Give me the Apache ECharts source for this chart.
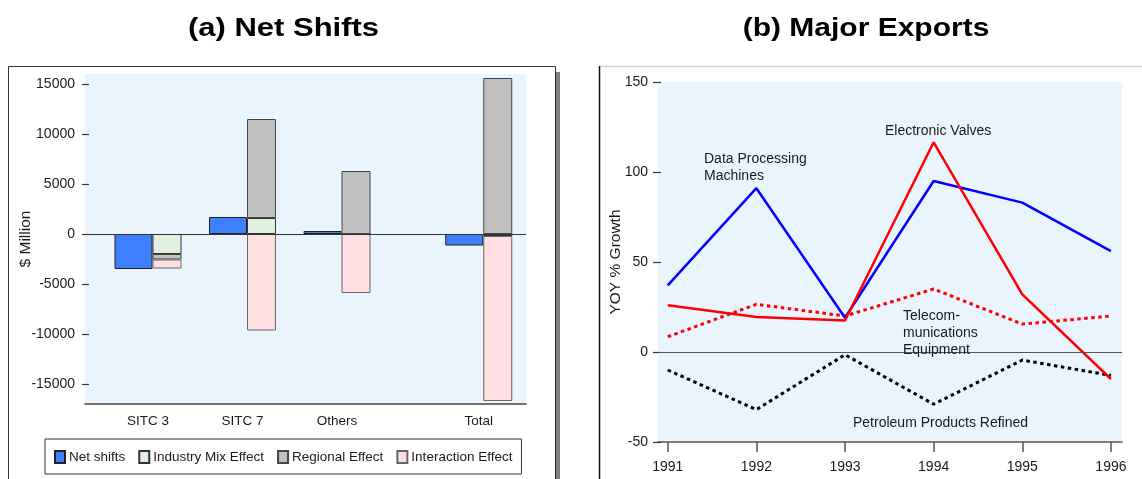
<!DOCTYPE html>
<html>
<head>
<meta charset="utf-8">
<script src="https://cdn.jsdelivr.net/npm/echarts@6/dist/echarts.min.js"></script>
<style>
  html, body { margin: 0; padding: 0; background: #fff; }
  #chart { width: 1142px; height: 479px; }
</style>
</head>
<body>
<div id="chart"></div>
<script>
// (a) Net shifts, $ million
const categories = ['SITC 3', 'SITC 7', 'Others', 'Total']
const netShifts = [-3500, 1700, 300, -1150]
const industryMix = [-2000, 1600, 0, -200]
const regionalEffect = [-550, 9900, 6300, 15600]
const interactionEffect = [-900, -9650, -5900, -16500]
const netTicks = [-15000, -10000, -5000, 0, 5000, 10000, 15000]

// (b) Major exports, YOY % growth
const years = [1991, 1992, 1993, 1994, 1995, 1996]
const dataProcessing = [37, 91, 19, 95, 83, 56]
const electronicValves = [26, 19.5, 17.5, 116.5, 32, -15]
const telecomEquipment = [8.5, 26.5, 20, 35, 15.5, 20]
const petroleumRefined = [-10, -32, -1.5, -29, -4.5, -13]

// category axis layout: Total sits a little apart from the others
const slotCount = 29
const slotOf = [4, 10, 16, 25]

const FONT = '"Liberation Sans", Arial, sans-serif'
const TEXT = '#1a1a1a'

function toSlots(values) {
  const arr = new Array(slotCount).fill(null)
  values.forEach((v, i) => { arr[slotOf[i]] = v })
  return arr
}
const slotLabels = toSlots(categories).map(c => c || '')
const pairs = vals => years.map((y, i) => [y, vals[i]])

const chart = echarts.init(document.getElementById('chart'))

const barBase = { type: 'bar', xAxisIndex: 0, yAxisIndex: 0, barGap: '0%' }
const dotted = [3.5, 3.5]

const option = {
  animation: false,
  textStyle: { fontFamily: FONT, color: TEXT },
  grid: [
    { left: 85, top: 74, width: 441, height: 330, show: true, backgroundColor: '#eaf4fd', borderWidth: 0 },
    { left: 658, top: 82, width: 464, height: 360, show: true, backgroundColor: '#eaf4fd', borderWidth: 0 }
  ],
  legend: {
    data: ['Net shifts', 'Industry Mix Effect', 'Regional Effect', 'Interaction Effect'],
    left: 45, top: 439,
    padding: [11, 9, 10, 9],
    itemWidth: 10, itemHeight: 12, itemGap: 13,
    borderColor: '#333', borderWidth: 1,
    icon: 'rect',
    textStyle: { fontFamily: FONT, fontSize: 13.5, color: TEXT, padding: [0, 0, 0, -1] }
  },
  xAxis: [
    {
      gridIndex: 0, type: 'category', data: slotLabels, boundaryGap: false,
      axisLine: { onZero: false, lineStyle: { color: '#444', width: 1.5 } },
      axisTick: { show: false },
      axisLabel: { interval: 0, margin: 10, fontSize: 13.5, color: TEXT, fontFamily: FONT },
      splitLine: { show: false }
    },
    {
      gridIndex: 1, type: 'value',
      min: v => v.min - 0.11, max: v => v.max + 0.125,
      axisLine: { onZero: false, lineStyle: { color: '#555', width: 1.5 } },
      axisTick: { customValues: years, length: 10, lineStyle: { color: '#555', width: 1.5 } },
      axisLabel: { customValues: years, formatter: v => String(v), margin: 18, fontSize: 14, color: TEXT, fontFamily: FONT },
      splitLine: { show: false }
    }
  ],
  yAxis: [
    {
      gridIndex: 0, type: 'value', min: -17000, max: 16000, offset: -4,
      name: '$ Million', nameLocation: 'middle', nameGap: 55, nameMoveOverlap: false,
      nameTextStyle: { fontSize: 15.5, color: TEXT, fontFamily: FONT },
      axisLine: { show: false },
      axisTick: { show: true, customValues: netTicks, length: 7, lineStyle: { color: '#333', width: 1.2 } },
      axisLabel: { customValues: netTicks, formatter: v => String(v), margin: 14, fontSize: 14, color: TEXT, fontFamily: FONT },
      splitLine: { show: false }
    },
    {
      gridIndex: 1, type: 'value', min: -50, max: 150, interval: 50, offset: -3,
      name: 'YOY % Growth', nameLocation: 'middle', nameGap: 37, nameMoveOverlap: false,
      nameTextStyle: { fontSize: 15.5, color: TEXT, fontFamily: FONT },
      axisLine: { show: false },
      axisTick: { show: true, length: 8, lineStyle: { color: '#333', width: 1.2 } },
      axisLabel: { margin: 13, fontSize: 14, color: TEXT, fontFamily: FONT },
      splitLine: { show: false }
    }
  ],
  series: [
    {
      ...barBase, name: 'Net shifts', stack: 'net', barWidth: 38,
      data: toSlots(netShifts),
      itemStyle: { color: '#4080ff', borderColor: '#222', borderWidth: 1 },
      markLine: {
        silent: true, symbol: ['none', 'none'], label: { show: false },
        lineStyle: { color: '#333', width: 1, type: 'solid' },
        data: [{ yAxis: 0 }]
      }
    },
    {
      ...barBase, name: 'Industry Mix Effect', stack: 'parts', barWidth: 29,
      data: toSlots(industryMix),
      itemStyle: { color: '#e0f0e0', borderColor: '#333', borderWidth: 1 }
    },
    {
      ...barBase, name: 'Regional Effect', stack: 'parts', barWidth: 29,
      data: toSlots(regionalEffect),
      itemStyle: { color: '#c0c0c0', borderColor: '#444', borderWidth: 1 }
    },
    {
      ...barBase, name: 'Interaction Effect', stack: 'parts', barWidth: 29,
      data: toSlots(interactionEffect),
      itemStyle: { color: '#ffdfe2', borderColor: '#666', borderWidth: 1 }
    },
    {
      type: 'line', name: 'Petroleum Products Refined', xAxisIndex: 1, yAxisIndex: 1,
      data: pairs(petroleumRefined), showSymbol: false,
      lineStyle: { color: '#000', width: 3, type: dotted },
      markLine: {
        silent: true, symbol: ['none', 'none'], label: { show: false },
        lineStyle: { color: '#555', width: 1, type: 'solid' },
        data: [{ yAxis: 0 }]
      }
    },
    {
      type: 'line', name: 'Telecommunications Equipment', xAxisIndex: 1, yAxisIndex: 1,
      data: pairs(telecomEquipment), showSymbol: false,
      lineStyle: { color: '#ff0000', width: 3, type: dotted }
    },
    {
      type: 'line', name: 'Data Processing Machines', xAxisIndex: 1, yAxisIndex: 1,
      data: pairs(dataProcessing), showSymbol: false,
      lineStyle: { color: '#0000ff', width: 2.5 }
    },
    {
      type: 'line', name: 'Electronic Valves', xAxisIndex: 1, yAxisIndex: 1,
      data: pairs(electronicValves), showSymbol: false,
      lineStyle: { color: '#ff0000', width: 2.5 }
    }
  ],
  graphic: [
    // panel frames
    { type: 'rect', shape: { x: 555.5, y: 72, width: 4.5, height: 420 }, style: { fill: '#808080' } },
    { type: 'rect', shape: { x: 8.5, y: 66.5, width: 547, height: 440 }, style: { fill: 'none', stroke: '#333', lineWidth: 1 } },
    { type: 'line', shape: { x1: 599, y1: 66.5, x2: 1142, y2: 66.5 }, style: { stroke: '#d4d4d4', lineWidth: 1.5 } },
    { type: 'line', shape: { x1: 599.5, y1: 66, x2: 599.5, y2: 479 }, style: { stroke: '#111', lineWidth: 1.5 } },
    // titles
    {
      type: 'text', x: 283.5, y: 29, scaleX: 1.24,
      style: { text: '(a) Net Shifts', font: 'bold 25px ' + FONT, fill: '#000', textAlign: 'center', align: 'center', textVerticalAlign: 'middle', verticalAlign: 'middle' }
    },
    {
      type: 'text', x: 866, y: 29, scaleX: 1.2,
      style: { text: '(b) Major Exports', font: 'bold 25px ' + FONT, fill: '#000', textAlign: 'center', align: 'center', textVerticalAlign: 'middle', verticalAlign: 'middle' }
    },
    // line annotations
    {
      type: 'text', x: 704, y: 151, z: 10,
      style: { text: 'Data Processing\nMachines', font: '14px ' + FONT, lineHeight: 17, fill: TEXT }
    },
    {
      type: 'text', x: 885, y: 123, z: 10,
      style: { text: 'Electronic Valves', font: '14px ' + FONT, lineHeight: 17, fill: TEXT }
    },
    {
      type: 'text', x: 903, y: 308, z: 10,
      style: { text: 'Telecom-\nmunications\nEquipment', font: '14px ' + FONT, lineHeight: 17, fill: TEXT }
    },
    {
      type: 'text', x: 853, y: 415, z: 10,
      style: { text: 'Petroleum Products Refined', font: '14px ' + FONT, lineHeight: 17, fill: TEXT }
    }
  ]
}

chart.setOption(option)
</script>
</body>
</html>
